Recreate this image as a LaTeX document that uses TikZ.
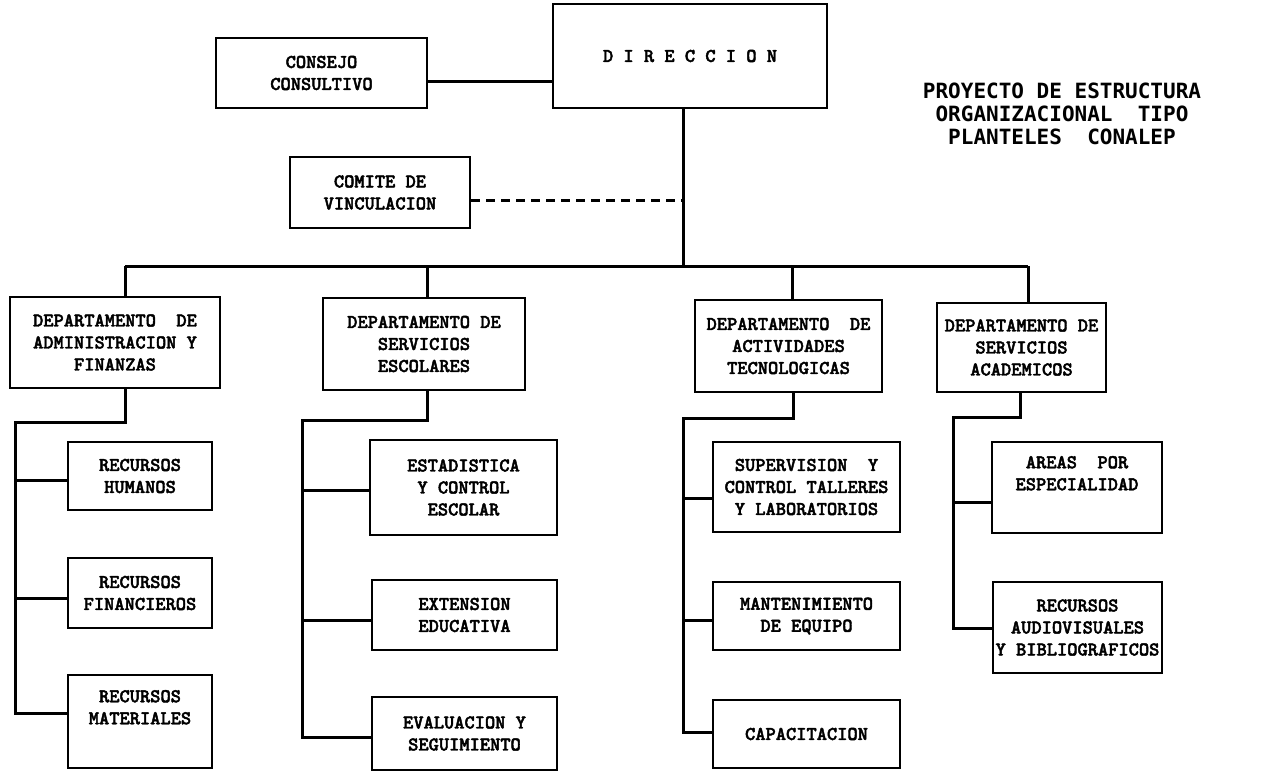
\documentclass[tikz,border=0pt]{standalone}
\usepackage{fontspec}
\newfontfamily\boxfont{lmmonolt10-bold.otf}[FakeBold=2.2]
\newfontfamily\titlefont{DejaVu Sans Mono}
\begin{document}
\begin{tikzpicture}[x=1pt,y=-1pt,
  box/.style={draw, line width=2.8pt, inner sep=0pt, align=center,
    font=\boxfont\fontsize{19.5}{22}\selectfont},
  conn/.style={line width=3pt},
  dashconn/.style={line width=3pt, dash pattern=on 9pt off 6pt},
  titletext/.style={align=center, font=\titlefont\bfseries\fontsize{21}{23}\selectfont}
]
\useasboundingbox (0,0) rectangle (1274,773);

% top level
\node[box, minimum width=274pt, minimum height=104pt] (dir) at (690,56) {D I R E C C I O N};
\node[box, minimum width=211pt, minimum height=70pt] (cons) at (321.5,73) {CONSEJO\\CONSULTIVO};
\node[box, minimum width=180pt, minimum height=71pt] (com) at (380,192.5) {COMITE DE\\VINCULACION};
\node[titletext] (title) at (1062,114) {PROYECTO DE ESTRUCTURA\\ORGANIZACIONAL~ TIPO\\PLANTELES~ CONALEP};

% departments
\node[box, minimum width=210pt, minimum height=91pt] (daf) at (115,342.5) {DEPARTAMENTO~ DE\\ADMINISTRACION Y\\FINANZAS};
\node[box, minimum width=202pt, minimum height=92pt] (dse) at (424,344) {DEPARTAMENTO DE\\SERVICIOS\\ESCOLARES};
\node[box, minimum width=187pt, minimum height=92pt] (dat) at (788.5,346) {DEPARTAMENTO~ DE\\ACTIVIDADES\\TECNOLOGICAS};
\node[box, minimum width=169pt, minimum height=89pt] (dsa) at (1021.5,347.5) {DEPARTAMENTO DE\\SERVICIOS\\ACADEMICOS};

% units
\node[box, minimum width=144pt, minimum height=68pt] (rh) at (140,476) {RECURSOS\\HUMANOS};
\node[box, minimum width=144pt, minimum height=70pt] (rf) at (140,593) {RECURSOS\\FINANCIEROS};
\node[box, minimum width=144pt, minimum height=93pt] (rm) at (140,721.5) {RECURSOS\\MATERIALES\\\strut};
\node[box, minimum width=187pt, minimum height=95pt] (est) at (463.5,487.5) {ESTADISTICA\\Y CONTROL\\ESCOLAR};
\node[box, minimum width=185pt, minimum height=70pt] (ext) at (464.5,615) {EXTENSION\\EDUCATIVA};
\node[box, minimum width=185pt, minimum height=73pt] (eval) at (464.5,733.5) {EVALUACION Y\\SEGUIMIENTO};
\node[box, minimum width=187pt, minimum height=90pt] (sup) at (806.5,487) {SUPERVISION~ Y\\CONTROL TALLERES\\Y LABORATORIOS};
\node[box, minimum width=187pt, minimum height=68pt] (mant) at (806.5,616) {MANTENIMIENTO\\DE EQUIPO};
\node[box, minimum width=187pt, minimum height=68pt] (cap) at (806.5,734) {CAPACITACION};
\node[box, minimum width=170pt, minimum height=91pt] (areas) at (1077,487.5) {AREAS~ POR\\ESPECIALIDAD\\\strut};
\node[box, minimum width=169pt, minimum height=91pt] (rav) at (1077.5,627.5) {RECURSOS\\AUDIOVISUALES\\Y BIBLIOGRAFICOS};

% top connectors
\coordinate (trunk) at (683,266);
\coordinate (cc) at (490,82);
\coordinate (dd) at (683,200);
\coordinate (busL) at (125,266);
\coordinate (b2) at (427,266);
\coordinate (b3) at (792,266);
\coordinate (busR) at (1028,266);
\draw[conn] (dir.south -| trunk) -- (trunk);
\draw[conn] (cons.east |- cc) -- (dir.west |- cc);
\draw[dashconn] (com.east |- dd) -- (dd);
\draw[conn] (busL) -- (busR);
\draw[conn] (busL) -- (busL |- daf.north);
\draw[conn] (b2) -- (b2 |- dse.north);
\draw[conn] (b3) -- (b3 |- dat.north);
\draw[conn] (busR) -- (busR |- dsa.north);

% group 1
\coordinate (s1) at (125,422);
\coordinate (p1) at (15,422);
\draw[conn] (s1 |- daf.south) -- (s1) -- (p1) -- (15,713) -- (rm.west |- 0,713);
\draw[conn] (15,480) -- (rh.west |- 0,480);
\draw[conn] (15,598) -- (rf.west |- 0,598);

% group 2
\coordinate (s2) at (427,420);
\coordinate (p2) at (302,420);
\draw[conn] (s2 |- dse.south) -- (s2) -- (p2) -- (302,737) -- (eval.west |- 0,737);
\draw[conn] (302,490) -- (est.west |- 0,490);
\draw[conn] (302,620) -- (ext.west |- 0,620);

% group 3
\coordinate (s3) at (793,418);
\coordinate (p3) at (683,418);
\draw[conn] (s3 |- dat.south) -- (s3) -- (p3) -- (683,732) -- (cap.west |- 0,732);
\draw[conn] (683,498) -- (sup.west |- 0,498);
\draw[conn] (683,620) -- (mant.west |- 0,620);

% group 4
\coordinate (s4) at (1020,417);
\coordinate (p4) at (953,417);
\draw[conn] (s4 |- dsa.south) -- (s4) -- (p4) -- (953,628) -- (rav.west |- 0,628);
\draw[conn] (953,502) -- (areas.west |- 0,502);
\end{tikzpicture}
\end{document}
